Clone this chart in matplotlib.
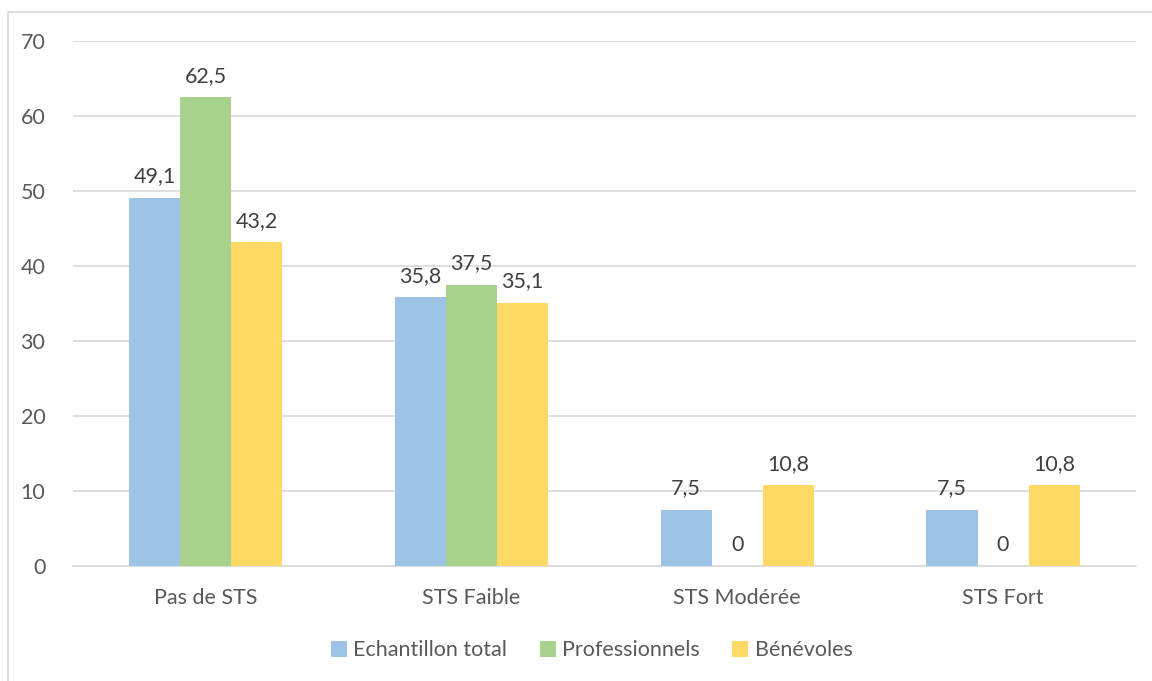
import numpy as np
import matplotlib.pyplot as plt
from matplotlib.patches import Rectangle

# data
categories = ['Pas de STS', 'STS Faible', 'STS Modérée', 'STS Fort']
series_names = ['Echantillon total', 'Professionnels', 'Bénévoles']
echantillon = [49.1, 35.8, 7.5, 7.5]
professionnels = [62.5, 37.5, 0, 0]
benevoles = [43.2, 35.1, 10.8, 10.8]
colors = ['#9DC3E6', '#A9D18E', '#FFD966']

plt.rcParams['font.family'] = ['Lato', 'DejaVu Sans']
txt = '#404040'
fs = 15.5

fig = plt.figure(figsize=(11.52, 6.81), dpi=100)
ax = fig.add_axes([0.0634, 0.1689, 0.9226, 0.7709])

# chart frame
fig.patches.append(Rectangle((8 / 1152, -0.01), 1.2, 1 - 12 / 681 + 0.01, transform=fig.transFigure,
                             fill=False, edgecolor='#D9D9D9', linewidth=1.2))

x = np.arange(len(categories))
w = 0.192
for i, (vals, name) in enumerate(zip([echantillon, professionnels, benevoles], series_names)):
    bars = ax.bar(x + (i - 1) * w, vals, w, color=colors[i], label=name, zorder=3)
    for b, v in zip(bars, vals):
        ax.text(b.get_x() + b.get_width() / 2, v + 1.5, f'{v:g}'.replace('.', ','),
                ha='center', va='bottom', fontsize=fs, color=txt)

ax.set_xlim(-0.5, 3.5)
ax.set_ylim(0, 70)
ax.set_yticks(range(0, 71, 10))
ax.set_xticks(x)
ax.set_xticklabels(categories)
ax.grid(axis='y', color='#D9D9D9', linewidth=1.2, zorder=0)
for s in ['top', 'right', 'left']:
    ax.spines[s].set_visible(False)
ax.spines['bottom'].set_color('#D9D9D9')
ax.spines['bottom'].set_linewidth(1.2)
ax.tick_params(length=0, labelsize=fs, labelcolor='#595959')
ax.tick_params(axis='y', pad=20)
ax.tick_params(axis='x', pad=16)

ax.legend(loc='upper center', bbox_to_anchor=(0.488, -0.105), ncol=3, frameon=False,
          fontsize=fs, handlelength=0.75, handleheight=0.75, handletextpad=0.3,
          columnspacing=1.5, labelcolor='#595959')

fig.savefig('out.png', dpi=100)
